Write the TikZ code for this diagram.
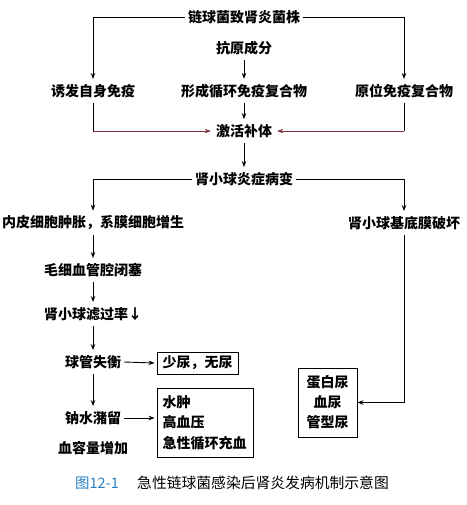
\documentclass[tikz,border=0pt]{standalone}
\usepackage{fontspec}
\newfontfamily\cjk{Noto Sans CJK SC}
\usetikzlibrary{arrows.meta}
\definecolor{capblue}{RGB}{40,128,196}
\definecolor{darkred}{RGB}{125,45,55}
\begin{document}
\begin{tikzpicture}[x=1pt,y=-1pt,
  lbl/.style={inner xsep=3pt, inner ysep=5pt, font=\cjk\bfseries\fontsize{14pt}{16pt}\selectfont},
  bx/.style={lbl, draw, line width=0.9pt},
  arr/.style={-{Stealth[length=6pt,width=4.5pt]}, line width=0.9pt},
  ln/.style={line width=0.9pt},
  redarr/.style={arr, draw=darkred}]
\useasboundingbox (0,0) rectangle (466,505);
% top
\node[lbl] (top) at (244,17) {链球菌致肾炎菌株};
\node[lbl] (anti) at (244,48) {抗原成分};
\node[lbl] (auto) at (93,91) {诱发自身免疫};
\node[lbl] (circ) at (244,91) {形成循环免疫复合物};
\node[lbl] (insitu) at (404,91) {原位免疫复合物};
\node[lbl] (act) at (244,131) {激活补体};
\node[lbl] (infl) at (244,179) {肾小球炎症病变};
\node[lbl] (endo) at (93,223) {内皮细胞肿胀，系膜细胞增生};
\node[lbl] (base) at (404,223) {肾小球基底膜破坏};
\node[lbl] (cap) at (93,270) {毛细血管腔闭塞};
\node[lbl] (gfr) at (93,314) {肾小球滤过率↓};
\node[lbl] (imb) at (93,362) {球管失衡};
\node[lbl] (na) at (93,418) {钠水潴留};
\node[lbl] (vol) at (93,448) {血容量增加};
\node[bx, minimum width=81pt, minimum height=22pt, inner ysep=0pt] (olig) at (197.5,363) {少尿，无尿};
\node[bx, text width=85pt, inner xsep=5.5pt, minimum height=69pt, align=left, inner ysep=0pt,
      font=\cjk\bfseries\fontsize{14pt}{20.5pt}\selectfont] (edema) at (205,422.5) {水肿\\高血压\\急性循环充血};
\node[bx, minimum width=59pt, minimum height=69pt, align=center, inner ysep=0pt,
      font=\cjk\bfseries\fontsize{14pt}{20pt}\selectfont] (urine) at (327.5,402.5) {蛋白尿\\血尿\\管型尿};
% caption
\node[inner sep=0pt, font=\cjk\fontsize{14.5pt}{17pt}\selectfont, text=capblue] (fig) at (97,483) {图12-1};
\node[inner sep=0pt, font=\cjk\fontsize{14.8pt}{17pt}\selectfont] (captxt) at (263,483) {急性链球菌感染后肾炎发病机制示意图};
% connectors
\draw[arr] (top.west) -| (auto.north);
\draw[arr] (top.east) -| (insitu.north);
\draw[arr] (anti.south) -- (circ.north);
\draw[arr] (circ.south) -- (act.north);
\coordinate (cl) at (auto.south |- act.west);
\coordinate (cr) at (insitu.south |- act.east);
\draw[ln] (auto.south) -- (cl);
\draw[redarr] (cl) -- ([xshift=-2pt]act.west);
\draw[ln] (insitu.south) -- (cr);
\draw[redarr] (cr) -- ([xshift=2pt]act.east);
\draw[arr] (act.south) -- (infl.north);
\draw[arr] (infl.west) -| (endo.north);
\draw[arr] (infl.east) -| (base.north);
\draw[arr] (endo.south) -- (cap.north);
\draw[arr] (cap.south) -- (gfr.north);
\draw[arr] (gfr.south) -- (imb.north);
\draw[arr] (imb.east) -- ([xshift=-2pt]olig.west);
\draw[arr] (imb.south) -- (na.north);
\draw[arr] (na.east) -- ([xshift=-2pt]na.east -| edema.west);
\draw[arr] (base.south) |- (urine.east);
\end{tikzpicture}
\end{document}
